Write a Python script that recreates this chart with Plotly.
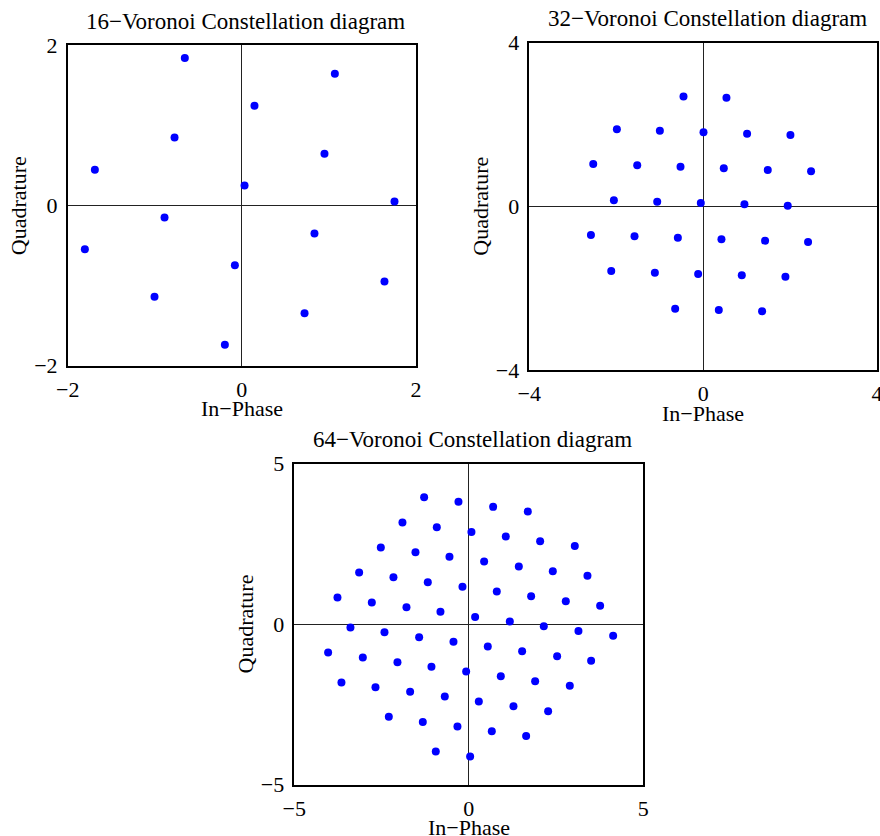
import plotly.graph_objects as go

# 16-point constellation
i16 = [-0.655, 1.068, 0.145, -0.773, -1.688, 0.949, 0.031, 1.753,
       -0.888, -1.803, 0.834, -0.080, -1.003, 1.638, 0.720, -0.195]
q16 = [1.840, 1.644, 1.245, 0.849, 0.445, 0.645, 0.250, 0.050,
       -0.150, -0.545, -0.350, -0.745, -1.140, -0.949, -1.344, -1.740]

# 32-point constellation
i32 = [-0.452, 0.536,
       -1.985, -0.996, 0.008, 1.011, 2.008,
       -2.529, -1.517, -0.521, 0.475, 1.487, 2.483,
       -2.054, -1.057, -0.054, 0.950, 1.946,
       -2.582, -1.579, -0.582, 0.421, 1.425, 2.414,
       -2.115, -1.111, -0.115, 0.889, 1.893,
       -0.644, 0.360, 1.356]
q32 = [2.688, 2.656,
       1.882, 1.849, 1.809, 1.776, 1.743,
       1.035, 1.002, 0.969, 0.929, 0.888, 0.855,
       0.147, 0.114, 0.081, 0.049, 0.016,
       -0.701, -0.733, -0.766, -0.807, -0.839, -0.872,
       -1.580, -1.621, -1.654, -1.686, -1.719,
       -2.501, -2.534, -2.566]

# 64-point constellation
i64 = [-1.280, -0.296, 0.697, 1.691,
       -1.901, -0.917, 0.076, 1.060, 2.044, 3.037,
       -2.521, -1.528, -0.554, 0.439, 1.433, 2.407, 3.400,
       -3.142, -2.159, -1.175, -0.181, 0.802, 1.786, 2.779, 3.763,
       -3.763, -2.779, -1.786, -0.812, 0.181, 1.175, 2.149, 3.142, 4.136,
       -3.391, -2.416, -1.423, -0.439, 0.544, 1.528, 2.531, 3.505,
       -4.031, -3.037, -2.044, -1.070, -0.076, 0.917, 1.901, 2.894,
       -3.649, -2.674, -1.681, -0.688, 0.287, 1.280, 2.273,
       -2.292, -1.318, -0.325, 0.659, 1.643,
       -0.946, 0.038]
q64 = [3.956, 3.811, 3.655, 3.510,
       3.167, 3.022, 2.876, 2.731, 2.586, 2.440,
       2.388, 2.243, 2.098, 1.952, 1.796, 1.651, 1.506,
       1.610, 1.464, 1.308, 1.163, 1.018, 0.872, 0.717, 0.571,
       0.831, 0.675, 0.530, 0.384, 0.228, 0.083, -0.062, -0.208, -0.363,
       -0.104, -0.249, -0.405, -0.550, -0.696, -0.841, -0.997, -1.142,
       -0.883, -1.038, -1.184, -1.329, -1.475, -1.620, -1.776, -1.921,
       -1.817, -1.963, -2.108, -2.253, -2.409, -2.555, -2.710,
       -2.887, -3.043, -3.188, -3.333, -3.479,
       -3.967, -4.123]

titles = ["16−Voronoi Constellation diagram",
          "32−Voronoi Constellation diagram",
          "64−Voronoi Constellation diagram"]
limits = [2, 4, 5]
xlabel = "In−Phase"
ylabel = "Quadrature"

W, H = 880, 836
FONT = "Liberation Serif, Times New Roman, serif"

# pixel boxes (left, right, top, bottom)
boxes = [(67.7, 416.0, 45.3, 365.7),
         (529.3, 877.0, 42.7, 370.0),
         (294.3, 643.3, 463.7, 784.7)]

fig = go.Figure()
data = [(i16, q16), (i32, q32), (i64, q64)]
annotations = []
for k, ((xs, ys), lim, box, title) in enumerate(zip(data, limits, boxes, titles)):
    n = "" if k == 0 else str(k + 1)
    l, r, t, b = box
    fig.add_trace(go.Scatter(x=xs, y=ys, mode="markers",
                             marker=dict(color="#0000FF", size=8, line=dict(width=0)),
                             xaxis="x" + n, yaxis="y" + n, showlegend=False,
                             hoverinfo="skip"))
    ticks = [-lim, 0, lim]
    ticktext = [("−" + str(lim)), "0", str(lim)]
    axcommon = dict(range=[-lim, lim], tickvals=ticks, ticktext=ticktext,
                    showgrid=False, zeroline=True, zerolinecolor="#222222",
                    zerolinewidth=1, showline=True, linecolor="black",
                    linewidth=1.5, mirror=True, ticks="", automargin=False,
                    ticklabeloverflow="allow",
                    tickfont=dict(family=FONT, size=22, color="black"),
                    fixedrange=True)
    fig.layout["xaxis" + n] = dict(axcommon, domain=[l / W, r / W],
                                   anchor="y" + n, ticklabelstandoff=3)
    fig.layout["yaxis" + n] = dict(axcommon, domain=[1 - b / H, 1 - t / H],
                                   anchor="x" + n, ticklabelstandoff=4)
    cx = (l + r) / 2
    annotations.append(dict(text=title, x=(cx + 4) / W, y=1 - (t - 24) / H,
                            xref="paper", yref="paper", showarrow=False,
                            font=dict(family=FONT, size=23, color="black"),
                            xanchor="center", yanchor="middle"))
    annotations.append(dict(text=xlabel, x=cx / W, y=1 - (b + 43) / H,
                            xref="paper", yref="paper", showarrow=False,
                            font=dict(family=FONT, size=22, color="black"),
                            xanchor="center", yanchor="middle"))
    annotations.append(dict(text=ylabel, x=(l - 49) / W, y=1 - ((t + b) / 2) / H,
                            xref="paper", yref="paper", showarrow=False,
                            textangle=-90,
                            font=dict(family=FONT, size=22, color="black"),
                            xanchor="center", yanchor="middle"))

fig.update_layout(width=W, height=H, margin=dict(l=0, r=0, t=0, b=0),
                  paper_bgcolor="white", plot_bgcolor="white",
                  annotations=annotations)
fig.write_html("out.html")
